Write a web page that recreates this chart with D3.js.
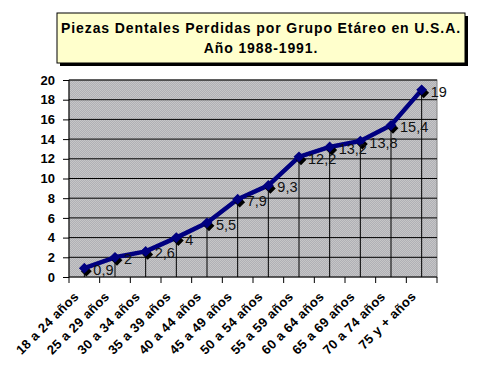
<!DOCTYPE html>
<html>
<head>
<meta charset="utf-8">
<script src="https://cdn.jsdelivr.net/npm/d3@7"></script>
<style>
  body { margin: 0; background: #fff; }
  text { font-family: Arial, "Liberation Sans", sans-serif; }
</style>
</head>
<body>
<script>
// data
var grupos = ["18 a 24 años", "25 a 29 años", "30 a 34 años", "35 a 39 años",
              "40 a 44 años", "45 a 49 años", "50 a 54 años", "55 a 59 años",
              "60 a 64 años", "65 a 69 años", "70 a 74 años", "75 y + años"];
var piezas = [0.9, 2, 2.6, 4, 5.5, 7.9, 9.3, 12.2, 13.2, 13.8, 15.4, 19];
var yTicks = [0, 2, 4, 6, 8, 10, 12, 14, 16, 18, 20];
var tituloLineas = ["Piezas Dentales Perdidas por Grupo Etáreo en U.S.A.", "Año 1988-1991."];

// chart area (plot rectangle inside the 488x371 window)
var margin = {top: 80, right: 51, bottom: 94, left: 69},
    width = 488 - margin.left - margin.right,
    height = 371 - margin.top - margin.bottom;

var svg = d3.select("body").append("svg")
    .attr("width", 488)
    .attr("height", 371);

// dithered grey fill like the old Excel plot area
var pat = svg.append("defs").append("pattern")
    .attr("id", "dither")
    .attr("width", 2).attr("height", 2)
    .attr("patternUnits", "userSpaceOnUse");
pat.append("rect").attr("width", 2).attr("height", 2).attr("fill", "#c6c6c6");
pat.append("rect").attr("width", 1).attr("height", 1).attr("fill", "#b0b0b6");
pat.append("rect").attr("x", 1).attr("y", 1).attr("width", 1).attr("height", 1).attr("fill", "#b0b0b6");

// title box with shadow
var tb = {x: 57, y: 13, w: 408, h: 50};
svg.append("rect")
    .attr("x", tb.x + 3).attr("y", tb.y + 3)
    .attr("width", tb.w).attr("height", tb.h)
    .attr("fill", "#000");
svg.append("rect")
    .attr("x", tb.x).attr("y", tb.y)
    .attr("width", tb.w).attr("height", tb.h)
    .attr("fill", "#ffffcc")
    .attr("stroke", "#000");
svg.selectAll(".titulo")
    .data(tituloLineas)
  .enter().append("text")
    .attr("class", "titulo")
    .attr("x", tb.x + tb.w / 2)
    .attr("y", function(d, i) { return 33 + i * 20; })
    .attr("text-anchor", "middle")
    .style("font-size", "14px")
    .style("font-weight", "bold")
    .style("letter-spacing", "0.9px")
    .text(function(d) { return d; });

var g = svg.append("g")
    .attr("transform", "translate(" + margin.left + "," + margin.top + ")");

var x = d3.scaleBand().domain(grupos).range([0, width]);
var y = d3.scaleLinear().domain([0, 20]).range([height, 0]);

g.append("rect")
    .attr("width", width)
    .attr("height", height)
    .attr("fill", "url(#dither)")
    .attr("stroke", "#808080");

// horizontal gridlines
g.selectAll(".grid")
    .data(yTicks.slice(1))
    .enter().append("line")
    .attr("x1", 0).attr("x2", width)
    .attr("y1", function(d) { return y(d); })
    .attr("y2", function(d) { return y(d); })
    .attr("stroke", "#000");

// drop lines from each point to the x axis
g.selectAll(".drop")
    .data(piezas)
    .enter().append("line")
    .attr("x1", function(d, i) { return x(grupos[i]) + x.bandwidth() / 2; })
    .attr("x2", function(d, i) { return x(grupos[i]) + x.bandwidth() / 2; })
    .attr("y1", function(d) { return y(d); })
    .attr("y2", height)
    .attr("stroke", "#000");

// y axis
var yAxis = g.append("g")
    .call(d3.axisLeft(y).tickValues(yTicks).tickSize(6).tickPadding(8));
yAxis.select(".domain").attr("stroke", "#000").attr("d", "M0,0V" + height);
yAxis.selectAll("line").attr("stroke", "#000");
yAxis.selectAll("text")
    .style("font-size", "13px")
    .style("font-weight", "bold")
    .attr("fill", "#000");

// x axis: ticks at category boundaries
var xAxis = g.append("g")
    .attr("transform", "translate(0," + height + ")");
xAxis.append("line")
    .attr("x1", 0).attr("x2", width)
    .attr("stroke", "#000");
xAxis.selectAll(".tk")
    .data(grupos.concat(["fin"]))
    .enter().append("line")
    .attr("x1", function(d, i) { return i * x.step(); })
    .attr("x2", function(d, i) { return i * x.step(); })
    .attr("y1", 0).attr("y2", 6)
    .attr("stroke", "#000");
xAxis.selectAll(".lbl")
    .data(grupos)
    .enter().append("text")
    .attr("transform", function(d) {
        return "translate(" + (x(d) + x.bandwidth() / 2 - 8) + ",17) rotate(-45)";
    })
    .attr("text-anchor", "end")
    .attr("dy", "0.35em")
    .style("font-size", "13px")
    .style("font-weight", "bold")
    .style("letter-spacing", "0.4px")
    .text(function(d) { return d; });

// the series line
var line = d3.line()
    .x(function(d, i) { return x(grupos[i]) + x.bandwidth() / 2; })
    .y(function(d) { return y(d); });

g.append("path")
    .datum(piezas)
    .attr("d", line)
    .attr("fill", "none")
    .attr("stroke", "#000080")
    .attr("stroke-width", 4.5)
    .attr("stroke-linejoin", "round");

// diamond markers with a black shadow
var diamond = d3.symbol().type(d3.symbolDiamond2).size(75);
g.selectAll(".sombra")
    .data(piezas)
    .enter().append("path")
    .attr("d", diamond)
    .attr("transform", function(d, i) {
        return "translate(" + (x(grupos[i]) + x.bandwidth() / 2 + 2) + "," + (y(d) + 3) + ")";
    })
    .attr("fill", "#000");
g.selectAll(".marca")
    .data(piezas)
    .enter().append("path")
    .attr("d", diamond)
    .attr("transform", function(d, i) {
        return "translate(" + (x(grupos[i]) + x.bandwidth() / 2) + "," + y(d) + ")";
    })
    .attr("fill", "#000080");

// value labels with comma decimals
g.selectAll(".valor")
    .data(piezas)
    .enter().append("text")
    .attr("x", function(d, i) { return x(grupos[i]) + x.bandwidth() / 2 + 9; })
    .attr("y", function(d) { return y(d) + 2; })
    .attr("dy", "0.35em")
    .style("font-size", "14.5px")
    .attr("fill", "#111")
    .text(function(d) { return String(d).replace(".", ","); });
</script>
</body>
</html>
